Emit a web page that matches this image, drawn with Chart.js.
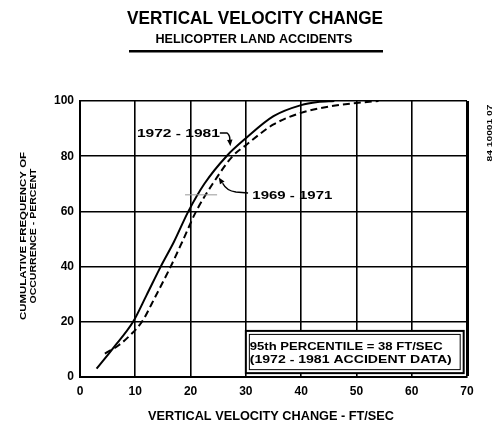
<!DOCTYPE html>
<html>
<head>
<meta charset="utf-8">
<script src="https://cdn.jsdelivr.net/npm/chart.js@4.4.1/dist/chart.umd.min.js"></script>
<style>
 html, body { margin: 0; padding: 0; background: #fff; }
 #wrap { width: 494px; height: 427px; }
</style>
</head>
<body>
<div id="wrap"><canvas id="velChart" width="494" height="427"></canvas></div>
<script>
// 1972 - 1981 curve (solid)
const newX = [3, 6, 9.6, 12, 14.6, 17, 19.6, 22.5, 26.5, 30, 35, 40, 43, 46];
const newY = [3, 10.5, 20, 29.5, 40, 49, 60, 70, 80, 86.5, 94.5, 98.5, 99.6, 100];
// 1969 - 1971 curve (dashed)
const oldX = [4.5, 7, 9, 11.2, 13.6, 16.4, 18.5, 21, 24, 27.6, 30, 35, 40, 45, 50, 54];
const oldY = [8.5, 11.5, 15, 20, 29, 40, 49, 60, 70, 80, 84, 91.5, 95.7, 98, 99.3, 100];

const xTicks = [0, 10, 20, 30, 40, 50, 60, 70];
const yTicks = [0, 20, 40, 60, 80, 100];

const titleText = "VERTICAL VELOCITY CHANGE";
const subText = "HELICOPTER LAND ACCIDENTS";
const xTitle = "VERTICAL VELOCITY CHANGE - FT/SEC";
const yTitle = ["CUMULATIVE FREQUENCY OF", "OCCURRENCE - PERCENT"];
const boxText = ["95th PERCENTILE = 38 FT/SEC", "(1972 - 1981 ACCIDENT DATA)"];
const figNo = "84 10001 07";

function toPoints(xs, ys){
 return xs.map((x, i) => ({x: x, y: ys[i]}));
}

// draws text squeezed / stretched to a given width
function fitText(ctx, text, cx, cy, width, font, align){
 ctx.font = font;
 const w = ctx.measureText(text).width;
 ctx.save();
 ctx.translate(cx, cy);
 ctx.scale(width / w, 1);
 ctx.textAlign = align || "center";
 ctx.textBaseline = "middle";
 ctx.fillStyle = "#000";
 ctx.fillText(text, 0, 0);
 ctx.restore();
}

const whiteBg = {
 id: "whiteBg",
 beforeDraw(chart){
  const c = chart.ctx;
  c.save();
  c.fillStyle = "#fff";
  c.fillRect(0, 0, chart.width, chart.height);
  c.restore();
 }
};

const extras = {
 id: "extras",
 afterDraw(chart){
  const c = chart.ctx;
  const xs = chart.scales.x, ys = chart.scales.y;
  const px = v => xs.getPixelForValue(v);
  const py = v => ys.getPixelForValue(v);

  // titles
  fitText(c, titleText, 255, 19, 256, "bold 19px 'Liberation Sans', Arial, sans-serif");
  fitText(c, subText, 254, 40, 197, "bold 12px 'Liberation Sans', Arial, sans-serif");
  c.fillStyle = "#000";
  c.fillRect(129, 50, 254, 2.5);

  // axis titles
  fitText(c, xTitle, 271, 417, 246, "bold 12px 'Liberation Sans', Arial, sans-serif");
  c.save();
  c.translate(23.5, 236);
  c.rotate(-Math.PI / 2);
  fitText(c, yTitle[0], 0, 0, 168, "bold 9.5px 'Liberation Sans', Arial, sans-serif");
  fitText(c, yTitle[1], 0, 9.5, 135, "bold 9.5px 'Liberation Sans', Arial, sans-serif");
  c.restore();

  // figure number on the right
  c.save();
  c.translate(490, 133);
  c.rotate(-Math.PI / 2);
  fitText(c, figNo, 0, 0, 57, "bold 8px 'Liberation Sans', Arial, sans-serif");
  c.restore();

  // curve labels
  fitText(c, "1972 - 1981", px(17.8), py(88), 83, "bold 11px 'Liberation Sans', Arial, sans-serif");
  fitText(c, "1969 - 1971", px(38.4), py(65.6), 80, "bold 11px 'Liberation Sans', Arial, sans-serif");

  c.save();
  c.strokeStyle = "#000";
  c.fillStyle = "#000";
  c.lineWidth = 1.5;
  // arrow to solid curve
  c.beginPath();
  c.moveTo(px(25.3), py(88.4));
  c.lineTo(px(26.6), py(88.4));
  c.quadraticCurveTo(px(27.2), py(87.5), px(27.1), py(85.5));
  c.stroke();
  arrowHead(c, px(27.1), py(85.8), px(27.2), py(83.6));
  // arrow to dashed curve
  c.beginPath();
  c.moveTo(px(30.4), py(66.7));
  c.lineTo(px(28.2), py(67));
  c.quadraticCurveTo(px(26.5), py(67.5), px(25.8), py(70.2));
  c.stroke();
  arrowHead(c, px(25.9), py(69.8), px(25.1), py(72.3));

  // faint stray line
  c.strokeStyle = "#999";
  c.lineWidth = 1;
  c.beginPath();
  c.moveTo(px(19), py(66));
  c.lineTo(px(24.8), py(66));
  c.stroke();

  // note box
  const bx = px(30.0), by = py(16.7), bw = px(69.4) - px(30.0), bh = py(1.4) - py(16.7);
  c.fillStyle = "#fff";
  c.fillRect(bx, by, bw, bh);
  c.strokeStyle = "#000";
  c.lineWidth = 2;
  c.strokeRect(bx, by, bw, bh);
  c.lineWidth = 1;
  c.strokeRect(bx + 3.5, by + 3.5, bw - 7, bh - 7);
  c.restore();
  fitText(c, boxText[0], px(30.7), py(10.9), 193, "bold 11px 'Liberation Sans', Arial, sans-serif", "left");
  fitText(c, boxText[1], px(30.7), py(6.2), 202, "bold 11px 'Liberation Sans', Arial, sans-serif", "left");
 }
};

function arrowHead(c, x0, y0, x1, y1){
 const a = Math.atan2(y1 - y0, x1 - x0);
 const len = 7, half = 0.4;
 c.beginPath();
 c.moveTo(x1, y1);
 c.lineTo(x1 - len * Math.cos(a - half), y1 - len * Math.sin(a - half));
 c.lineTo(x1 - len * Math.cos(a + half), y1 - len * Math.sin(a + half));
 c.closePath();
 c.fill();
}

window.onload = function(){

const ctx = document.getElementById("velChart").getContext("2d");

new Chart(ctx, {
 type: "line",
 data: {
  datasets: [
   {
    label: "1972 - 1981",
    data: toPoints(newX, newY),
    borderColor: "#000",
    borderWidth: 2,
    pointRadius: 0,
    cubicInterpolationMode: "monotone",
    fill: false
   },
   {
    label: "1969 - 1971",
    data: toPoints(oldX, oldY),
    borderColor: "#000",
    borderWidth: 2,
    borderDash: [7, 4],
    pointRadius: 0,
    cubicInterpolationMode: "monotone",
    fill: false
   }
  ]
 },
 options: {
  responsive: false,
  animation: false,
  devicePixelRatio: 1,
  layout: { padding: { top: 101, right: 27, bottom: 0, left: 0 } },
  plugins: {
   legend: { display: false },
   tooltip: { enabled: false },
   title: { display: false }
  },
  scales: {
   x: {
    type: "linear",
    min: 0,
    max: 70,
    afterBuildTicks: s => { s.ticks = xTicks.map(v => ({value: v})); },
    afterFit: s => { s.height = 50; },
    ticks: {
     color: "#000",
     padding: 7,
     font: { family: "'Liberation Sans', Arial, sans-serif", size: 12, weight: "bold" }
    },
    grid: {
     color: "#000",
     lineWidth: c => (c.tick && c.tick.value === 70) ? 3 : 1.6,
     drawTicks: false
    },
    border: { display: true, color: "#000", width: 2 }
   },
   y: {
    min: 0,
    max: 100,
    afterBuildTicks: s => { s.ticks = yTicks.map(v => ({value: v})); },
    afterFit: s => { s.width = 80; },
    ticks: {
     color: "#000",
     padding: 6,
     font: { family: "'Liberation Sans', Arial, sans-serif", size: 12, weight: "bold" }
    },
    grid: {
     color: "#000",
     lineWidth: 1.6,
     drawTicks: false
    },
    border: { display: true, color: "#000", width: 2 }
   }
  }
 },
 plugins: [whiteBg, extras]
});

}
</script>
</body>
</html>
